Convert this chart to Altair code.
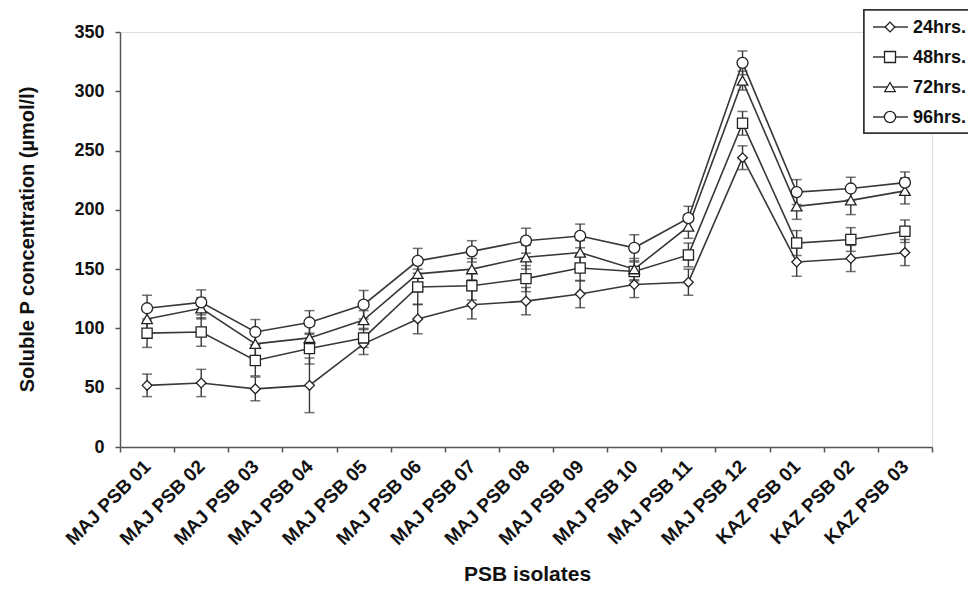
import altair as alt
import pandas as pd

isolates = ["MAJ PSB 01", "MAJ PSB 02", "MAJ PSB 03", "MAJ PSB 04", "MAJ PSB 05",
            "MAJ PSB 06", "MAJ PSB 07", "MAJ PSB 08", "MAJ PSB 09", "MAJ PSB 10",
            "MAJ PSB 11", "MAJ PSB 12", "KAZ PSB 01", "KAZ PSB 02", "KAZ PSB 03"]
series = ["24hrs.", "48hrs.", "72hrs.", "96hrs."]

h24 = [52, 54, 49, 52, 87, 108, 120, 123, 129, 137, 139, 244, 156, 159, 164]
h48 = [96, 97, 73, 83, 92, 135, 136, 142, 151, 148, 162, 273, 172, 175, 182]
h72 = [108, 117, 87, 92, 107, 146, 150, 160, 164, 150, 186, 309, 203, 208, 216]
h96 = [117, 122, 97, 105, 120, 157, 165, 174, 178, 168, 193, 324, 215, 218, 223]

e24 = [9.5, 11.5, 10, 23, 9, 12.5, 12, 11.5, 11.5, 11, 11, 10, 12, 11, 11]
e48 = [12, 12, 13, 13, 8, 15, 12, 11, 11, 8, 10, 10, 10.5, 10, 9.5]
e72 = [9, 9, 10, 10, 8, 10, 9, 10, 10, 9, 10, 8, 11, 12, 11]
e96 = [11, 10.5, 10.5, 10, 12, 10.5, 9, 10.5, 10, 11, 10, 10, 10.5, 9.5, 9]

shapes = ["diamond", "square", "triangle-up", "circle"]
sizes = [95, 121, 110, 125]

rows = []
for s, vals, errs in zip(series, [h24, h48, h72, h96], [e24, e48, e72, e96]):
    for i, (iso, v, e) in enumerate(zip(isolates, vals, errs)):
        rows.append({"isolate": iso, "idx": i, "series": s, "value": v,
                     "lo": v - e, "hi": v + e})
df = pd.DataFrame(rows)

FONT = "Liberation Sans"
LINE = "#383838"

x_enc = alt.X("isolate:N", sort=isolates,
              scale=alt.Scale(type="band", paddingInner=0, paddingOuter=0),
              axis=alt.Axis(title="PSB isolates", labelAngle=-45, labelAlign="right",
                            labelBaseline="middle", labelPadding=11, tickBand="extent",
                            tickSize=5, labelFontSize=19, labelFont=FONT,
                            labelFontWeight="bold", labelColor="#111111",
                            titleFontSize=21, titleFont=FONT, titleFontWeight="bold",
                            titleColor="#111111", titleX=407, titleY=127,
                            titleBaseline="middle", titleAlign="center",
                            domainColor="#555555", tickColor="#555555",
                            domainWidth=1.5, tickWidth=1.5))
y_scale = alt.Scale(domain=[0, 350], nice=False)
y_enc = alt.Y("value:Q", scale=y_scale,
              axis=alt.Axis(title="Soluble P concentration (µmol/l)",
                            values=[0, 50, 100, 150, 200, 250, 300, 350],
                            tickSize=5, labelPadding=11, labelFontSize=18, labelFont=FONT,
                            labelFontWeight="bold", labelColor="#111111",
                            titleFontSize=20, titleFont=FONT, titleFontWeight="bold",
                            titleColor="#111111", titleX=-93, titleY=207,
                            titleAngle=-90, titleBaseline="middle", titleAlign="center",
                            domainColor="#555555", tickColor="#555555",
                            domainWidth=1.5, tickWidth=1.5, grid=False))

base = alt.Chart(df)

rules = base.mark_rule(color=LINE, strokeWidth=1.4).encode(
    x=x_enc, y=alt.Y("lo:Q", scale=y_scale), y2="hi:Q")
cap_lo = base.mark_tick(color=LINE, thickness=1.5, size=10).encode(
    x=x_enc, y=alt.Y("lo:Q", scale=y_scale))
cap_hi = base.mark_tick(color=LINE, thickness=1.5, size=10).encode(
    x=x_enc, y=alt.Y("hi:Q", scale=y_scale))
lines = base.mark_line(color=LINE, strokeWidth=1.6).encode(
    x=x_enc, y=y_enc, detail="series:N", order="idx:Q")
points = base.mark_point(filled=True, fill="white", stroke="#222222",
                         strokeWidth=1.3, opacity=1).encode(
    x=x_enc, y=y_enc,
    shape=alt.Shape("series:N", scale=alt.Scale(domain=series, range=shapes), legend=None),
    size=alt.Size("series:N", scale=alt.Scale(domain=series, range=sizes), legend=None))

# manual legend (box, line + marker + label per series)
leg_df = pd.DataFrame({"series": series})
legend_layers = [
    alt.Chart(leg_df).mark_rect(fill="white", stroke="#333333", strokeWidth=1.5).encode(
        x=alt.value(744), x2=alt.value(852), y=alt.value(-22), y2=alt.value(101))
]
for k, s in enumerate(series):
    yy = -5 + 30 * k
    one = alt.Chart(pd.DataFrame({"series": [s]}))
    legend_layers.append(one.mark_rule(color=LINE, strokeWidth=1.6).encode(
        x=alt.value(753), x2=alt.value(788), y=alt.value(yy)))
    legend_layers.append(one.mark_point(shape=shapes[k], size=sizes[k], filled=True,
                                        fill="white", stroke="#222222", strokeWidth=1.3,
                                        opacity=1).encode(
        x=alt.value(770), y=alt.value(yy)))
    legend_layers.append(one.mark_text(align="left", baseline="middle", font=FONT,
                                       fontSize=18, fontWeight="bold", color="#111111").encode(
        x=alt.value(793), y=alt.value(yy + 1), text="series:N"))

chart = alt.layer(rules, cap_lo, cap_hi, lines, points, *legend_layers).properties(
    width=812, height=415,
    autosize=alt.AutoSizeParams(type="none"),
    padding={"left": 112, "top": 24, "right": 36, "bottom": 140},
).configure_view(stroke=None).configure(background="white")

chart.save("out.html", embed_options={"renderer": "svg", "actions": False})
